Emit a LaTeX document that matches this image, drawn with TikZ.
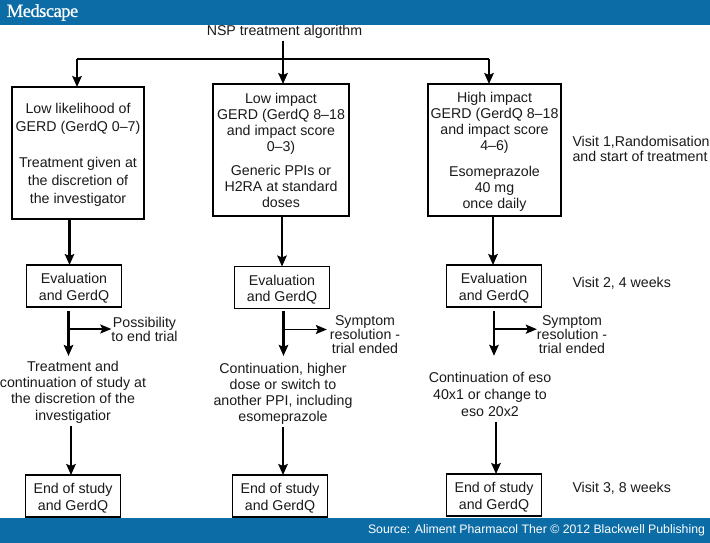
\documentclass[tikz,border=0pt]{standalone}
\usepackage{fontspec}
\setmainfont{Liberation Sans}
\newfontfamily\logofont[LetterSpace=-3,FakeBold=0.6]{Liberation Serif}
\usetikzlibrary{arrows.meta}
\definecolor{band}{HTML}{0B6CA6}
\definecolor{ink}{HTML}{1A1A1A}
\newcommand\firstline{\rule{0pt}{15pt}}
\tikzset{
  x=1pt,y=-1pt,
  every node/.style={inner sep=0pt,outer sep=0pt,text=ink,font=\fontsize{14.2}{16}\selectfont,align=center},
  flowbox/.style={draw=black,line width=1.5pt,fill=white},
  bigbox/.style={flowbox,minimum height=132pt},
  smallbox/.style={flowbox,minimum width=95pt,minimum height=42pt},
  flow/.style={draw=black,line width=2.1pt,-{Stealth[length=11pt,width=9.5pt,inset=2pt]}},
  branch/.style={draw=black,line width=1.7pt,-{Stealth[length=11pt,width=9pt,inset=2pt]}},
  plain/.style={draw=black,line width=2.1pt},
  side/.style={anchor=west,align=left},
}
\begin{document}
\begin{tikzpicture}
\useasboundingbox (0,0) rectangle (710,543);
\fill[white] (0,0) rectangle (710,543);
\fill[band] (0,0) rectangle (710,25);
\fill[band] (0,518) rectangle (710,543);
\node[text=white,font=\logofont\fontsize{18.6}{20}\selectfont,anchor=center] (logo) at (42.5,12.5) {Medscape};
\node[text=white,font=\fontsize{12.3}{14}\selectfont,anchor=east] (src) at (705,530.5) {Source: Aliment Pharmacol Ther © 2012 Blackwell Publishing};

\node (title) at (284.5,31.5) {NSP treatment algorithm};

\node[bigbox,minimum width=132pt] (boxA) at (78,153) {\rule{0pt}{14pt}Low likelihood of\\[2pt]GERD (GerdQ 0–7)\\[20pt]Treatment given at\\[1.7pt]the discretion of\\[1.7pt]the investigator};
\node[bigbox,minimum width=136pt] (boxB) at (281,150) {Low impact\\GERD (GerdQ 8–18\\and impact score\\0–3)\\[8pt]Generic PPIs or\\H2RA at standard\\doses};
\node[bigbox,minimum width=133pt] (boxC) at (494.5,150) {\rule{0pt}{13pt}High impact\\GERD (GerdQ 8–18\\and impact score\\4–6)\\[10pt]Esomeprazole\\40 mg\\once daily};

\node[smallbox] (evalA) at (74,286) {\firstline Evaluation\\[0.7pt]and GerdQ};
\node[smallbox] (evalB) at (282,287.5) {\firstline Evaluation\\[0.5pt]and GerdQ};
\node[smallbox] (evalC) at (494,286) {\firstline Evaluation\\[0.7pt]and GerdQ};

\node (contA) at (73,392) {Treatment and\\[0.3pt]continuation of study at\\[0.3pt]the discretion of the\\[0.3pt]investigatior};
\node (contB) at (283,393.5) {Continuation, higher\\dose or switch to\\another PPI, including\\esomeprazole};
\node (contC) at (490,394) {Continuation of eso\\[1pt]40x1 or change to\\[1pt]eso 20x2};

\node (endA) [smallbox] at (73,496) {\firstline End of study\\[1pt]and GerdQ};
\node (endB) [smallbox] at (280,496) {\firstline End of study\\[0.5pt]and GerdQ};
\node (endC) [smallbox] at (494,495) {\firstline End of study\\[0.5pt]and GerdQ};

\node (sideA) at (144.5,329) {Possibility\\[-2pt]to end trial};
\node (sideB) at (365,334.5) {Symptom\\[-2pt]resolution -\\[-2pt]trial ended};
\node (sideC) at (572,334.5) {Symptom\\[-2pt]resolution -\\[-2pt]trial ended};

\node[side] (v1) at (572.5,149) {Visit 1,Randomisation\\[-1pt]and start of treatment};
\node[side] (v2) at (572.5,283.5) {Visit 2, 4 weeks};
\node[side] (v3) at (572.5,488.5) {Visit 3, 8 weeks};

% top distribution
\coordinate (railL) at (77,59);
\coordinate (railM) at (283,59);
\coordinate (railR) at (489,59);
\draw[flow] (title.south -| railM) ++(0,2.5) -- (railM |- boxB.north);
\draw[plain] (railL) -- (railR);
\draw[flow] (railL) -- (railL |- boxA.north);
\draw[flow] (railR) -- (railR |- boxC.north);

% box to evaluation
\draw[flow] ([xshift=-8.5pt]boxA.south) -- ([xshift=-4.5pt]evalA.north);
\draw[flow] ([xshift=1pt]boxB.south) -- (evalB.north);
\draw[flow] ([xshift=-1.5pt]boxC.south) -- ([xshift=-1pt]evalC.north);

% evaluation to continuation
\coordinate (stemA) at ([xshift=-5.5pt,yshift=-4pt]evalA.south);
\coordinate (stemB) at ([xshift=1.5pt,yshift=-2pt]evalB.south);
\coordinate (stemC) at ([yshift=-4pt]evalC.south);
\draw[flow] (stemA) -- ([xshift=-4.5pt,yshift=5pt]contA.north);
\draw[flow] (stemB) -- ([xshift=0.5pt,yshift=7pt]contB.north);
\draw[flow] (stemC) -- ([xshift=4pt,yshift=16pt]contC.north);

% side branches
\draw[branch] (stemA |- sideA.west) -- (sideA.west);
\coordinate (junB) at (stemB |- 0,329.5);
\coordinate (junC) at (stemC |- 0,329.2);
\draw[branch] (junB) -- ([xshift=-3pt]junB -| sideB.west);
\draw[branch,line width=2.1pt] (junC) -- (junC -| sideC.west);

% continuation to end
\draw[flow] ([xshift=-2pt,yshift=-3pt]contA.south) -- ([xshift=-2pt]endA.north);
\draw[flow] ([yshift=-3pt]contB.south) -- ([xshift=3pt]endB.north);
\draw[flow] ([xshift=6pt,yshift=-6pt]contC.south) -- ([xshift=2pt]endC.north);
\end{tikzpicture}
\end{document}
